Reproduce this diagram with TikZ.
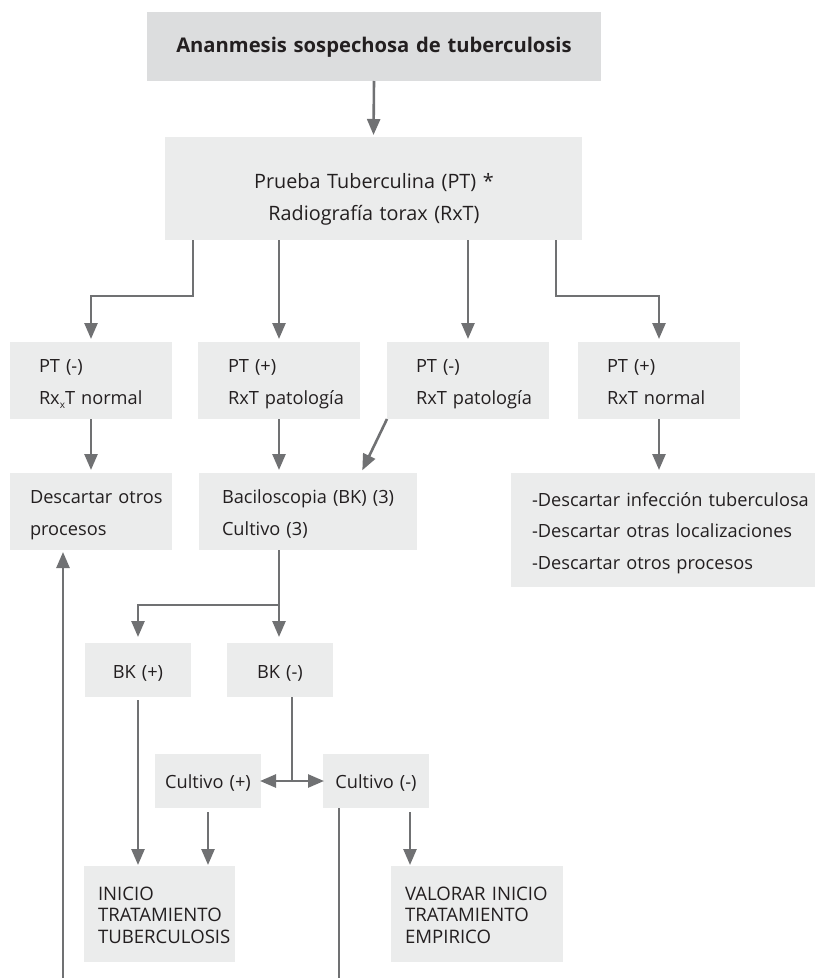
\documentclass[tikz,border=0pt]{standalone}
\usepackage{fontspec}
\setmainfont{Open Sans}
\usetikzlibrary{arrows.meta}

\definecolor{lineg}{RGB}{112,113,115}
\definecolor{headfill}{RGB}{220,221,222}
\definecolor{boxfill}{RGB}{235,236,236}
\definecolor{ink}{RGB}{35,31,32}

\begin{document}
\begin{tikzpicture}[x=1pt, y=-1pt,
  box/.style={fill=boxfill, draw=none, inner sep=0pt, outer sep=0pt},
  headbox/.style={box, fill=headfill},
  txt/.style={text=ink, inner sep=0pt, outer sep=0pt, text width=300pt,
    align=left, font=\fontsize{18.2}{32}\selectfont},
  ctxt/.style={txt, align=center, text width=200pt},
  captxt/.style={txt, font=\fontsize{18.6}{21.8}\selectfont},
  conn/.style={draw=lineg, line width=2.6pt},
  arr/.style={conn, -{Triangle[width=13pt,length=16pt]}},
  darr/.style={conn, {Triangle[width=13pt,length=16pt]}-{Triangle[width=13pt,length=16pt]}}
]
\useasboundingbox (0,0) rectangle (815,979);

% boxes
\node[headbox, minimum width=454pt, minimum height=69pt] (top) at (374,46.5) {};
\node[box, minimum width=417pt, minimum height=103pt] (pr) at (373.5,188.5) {};
\node[box, minimum width=162pt, minimum height=77pt] (p1) at (91,380.5) {};
\node[box, minimum width=162pt, minimum height=77pt] (p2) at (279,380.5) {};
\node[box, minimum width=162pt, minimum height=77pt] (p3) at (468,380.5) {};
\node[box, minimum width=162pt, minimum height=77pt] (p4) at (659,380.5) {};
\node[box, minimum width=162pt, minimum height=77pt] (d1) at (91,511.5) {};
\node[box, minimum width=218pt, minimum height=77pt] (bac) at (308,511.5) {};
\node[box, minimum width=304pt, minimum height=114pt] (rb) at (663,530) {};
\node[box, minimum width=106pt, minimum height=54pt] (bk1) at (138,670) {};
\node[box, minimum width=106pt, minimum height=54pt] (bk2) at (280,670) {};
\node[box, minimum width=106pt, minimum height=54pt] (c1) at (208,781) {};
\node[box, minimum width=106pt, minimum height=54pt] (c2) at (376,781) {};
\node[box, minimum width=151pt, minimum height=96pt] (ini) at (159.5,914) {};
\node[box, minimum width=172pt, minimum height=96pt] (val) at (477,914) {};

% texts
\node[ctxt, text width=440pt, anchor=base, font=\fontsize{20.2}{32}\selectfont\bfseries] (topt) at (374,53) {Ananmesis sospechosa de tuberculosis};
\node[ctxt, text width=400pt, anchor=base, font=\fontsize{19.8}{32}\selectfont] (prt) at (374,188) {Prueba Tuberculina (PT) *\\Radiografía torax (RxT)};
\node[txt, anchor=base west] (p1t) at (39,372) {PT (-)\\Rx\raisebox{-4pt}{\fontsize{10}{10}\selectfont x}T normal};
\node[txt, anchor=base west] (p2t) at (228,372) {PT (+)\\RxT patología};
\node[txt, anchor=base west] (p3t) at (416,372) {PT (-)\\RxT patología};
\node[txt, anchor=base west] (p4t) at (607,372) {PT (+)\\RxT normal};
\node[txt, anchor=base west] (d1t) at (30,503) {Descartar otros\\procesos};
\node[txt, anchor=base west] (bact) at (222,503) {Baciloscopia (BK) (3)\\Cultivo (3)};
\node[txt, anchor=base west, font=\fontsize{18.2}{31.5}\selectfont] (rbt) at (532,506) {-Descartar infección tuberculosa\\-Descartar otras localizaciones\\-Descartar otros procesos};
\node[ctxt, anchor=base] (bk1t) at (138,678) {BK (+)};
\node[ctxt, anchor=base] (bk2t) at (280,678) {BK (-)};
\node[ctxt, anchor=base] (c1t) at (208,788) {Cultivo (+)};
\node[ctxt, anchor=base] (c2t) at (376,788) {Cultivo (-)};
\node[captxt, anchor=base west] (init) at (98,900) {INICIO\\TRATAMIENTO\\TUBERCULOSIS};
\node[captxt, anchor=base west] (valt) at (405,900) {VALORAR INICIO\\TRATAMIENTO\\EMPIRICO};

% junction points and free ends
\coordinate (j1) at (193,296);
\coordinate (j4) at (556,296);
\coordinate (j5) at (279,605);
\coordinate (j6) at (292,781);
\coordinate (k1) at ([xshift=34pt]c2.south);
\coordinate (e1) at (339,978);
\coordinate (e2) at (63,978);
\coordinate (dg) at ([xshift=162pt]bac.north west);

% connectors
\draw[arr, shorten >=2pt] (top.south) -- (pr.north);
\draw[arr, shorten >=3pt] (pr.south -| j1) -- (j1) -| (p1.north);
\draw[arr, shorten >=3pt] (pr.south -| p2.north) -- (p2.north);
\draw[arr, shorten >=3pt] (pr.south -| p3.north) -- (p3.north);
\draw[arr, shorten >=3pt] (pr.south -| j4) -- (j4) -| (p4.north);

\draw[arr, shorten >=3pt] (p1.south) -- (d1.north);
\draw[arr, shorten >=3pt] (p2.south) -- (p2.south |- bac.north);
\draw[arr, shorten >=3pt] (p3.south west) -- (dg);
\draw[arr, shorten >=3pt] (p4.south) -- (p4.south |- rb.north);

\draw[arr, shorten >=6pt] (bac.south -| j5) -- (j5) -| (bk1.north);
\draw[arr, shorten >=6pt] (j5) -- (j5 |- bk2.north);

\draw[arr, shorten <=3pt, shorten >=1pt] (bk1.south) -- (bk1.south |- ini.north);
\draw[conn] (bk2.south -| j6) -- (j6);
\draw[darr, shorten <=-1pt, shorten >=-1pt] (c1.east) -- (c2.west);
\draw[arr, shorten <=4pt, shorten >=1pt] (c1.south) -- (c1.south |- ini.north);
\draw[arr, shorten <=4pt, shorten >=1pt] (k1) -- (k1 |- val.north);
\draw[conn] (c2.south -| e1) -- (e1);
\draw[arr, shorten >=2pt] (e2) -- (e2 |- d1.south);
\end{tikzpicture}
\end{document}
